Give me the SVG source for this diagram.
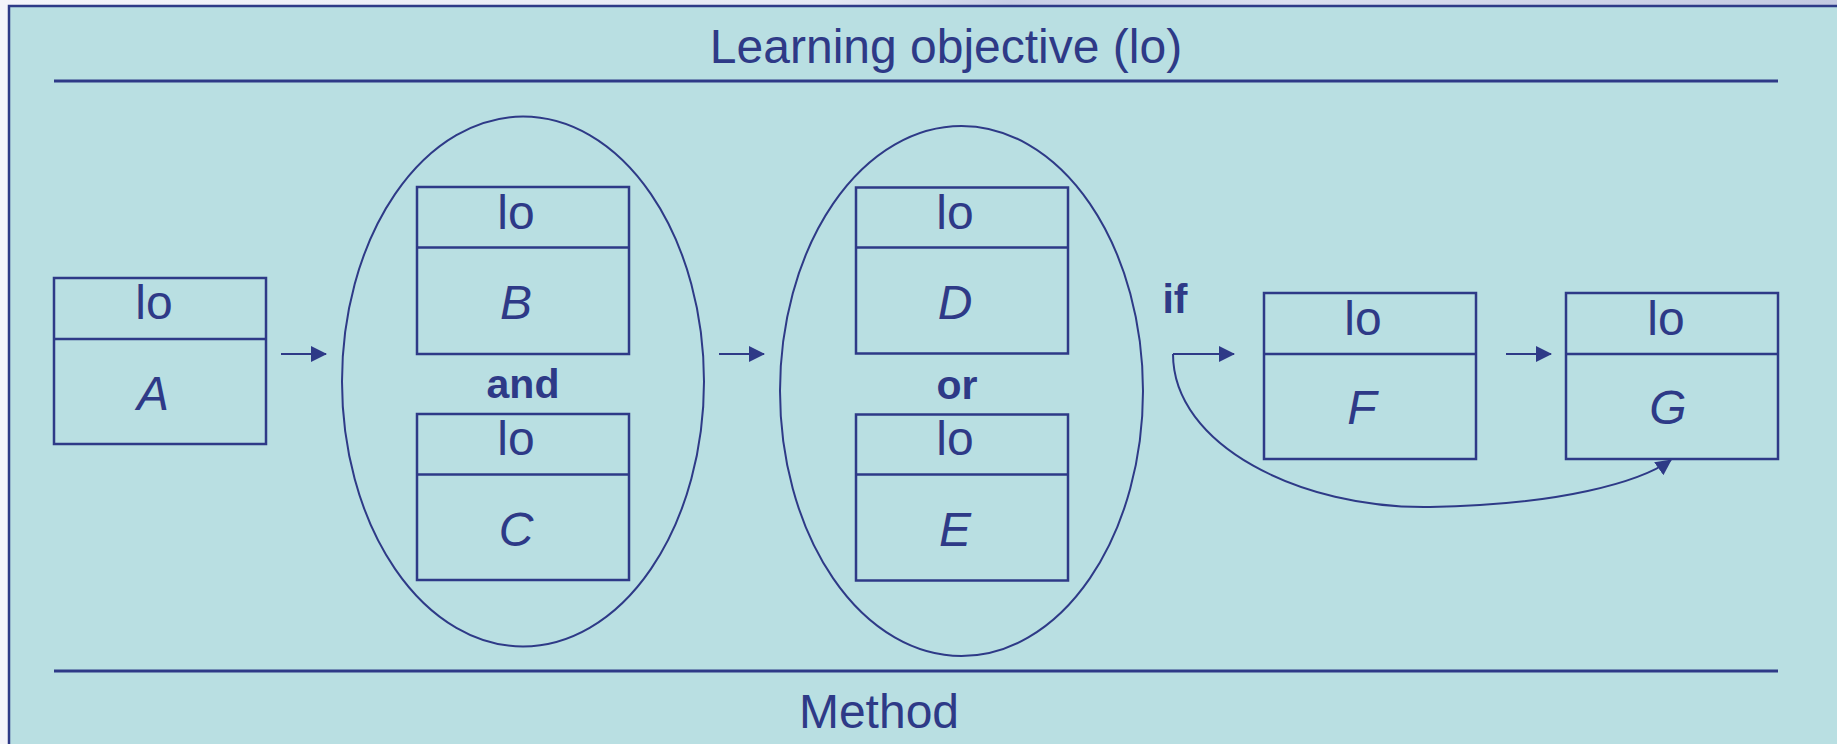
<svg xmlns="http://www.w3.org/2000/svg" width="1837" height="744" viewBox="0 0 1837 744">
  <defs>
    <linearGradient id="bgTop" x1="0" y1="0" x2="1" y2="0">
      <stop offset="0" stop-color="#F4F4FA"/>
      <stop offset="0.45" stop-color="#E6E9F4"/>
      <stop offset="0.55" stop-color="#C9CFE6"/>
      <stop offset="0.7" stop-color="#DCE0F0"/>
      <stop offset="1" stop-color="#C4CAE2"/>
    </linearGradient>
    <marker id="arr" viewBox="0 0 16 16" refX="15" refY="8" markerWidth="16" markerHeight="16" markerUnits="userSpaceOnUse" orient="auto">
      <path d="M0,0 L16,8 L0,16 Z" fill="#2E3A87"/>
    </marker>
    <style>
      .box { fill: none; stroke: #2E3A87; stroke-width: 2.5; }
      .ell { fill: none; stroke: #2E3A87; stroke-width: 2; }
      .conn { fill: none; stroke: #2E3A87; stroke-width: 2; }
      .t { font-family: "Liberation Sans", Arial, sans-serif; fill: #2E3A87; text-anchor: middle; }
      .lo48 { font-size: 48px; }
      .it { font-style: italic; }
      .bold { font-weight: bold; font-size: 41px; }
      .rule { stroke: #2E3A87; stroke-width: 3; }
    </style>
  </defs>

  <rect x="0" y="0" width="1837" height="744" fill="#F4F4FA"/>
  <rect x="0" y="0" width="1837" height="6" fill="url(#bgTop)"/>
  <rect x="9" y="6" width="1840" height="750" fill="#B9DFE2" stroke="#2E3A87" stroke-width="2.5"/>

  <g id="header">
    <text class="t" x="946" y="63" font-size="48">Learning objective (lo)</text>
    <line class="rule" x1="54" y1="81" x2="1778" y2="81"/>
  </g>
  <g id="footer">
    <line class="rule" x1="54" y1="671" x2="1778" y2="671"/>
    <text class="t" x="879" y="728" font-size="48">Method</text>
  </g>

  <g id="node-A">
    <rect class="box" x="54" y="278" width="212" height="166"/>
    <line class="box" x1="54" y1="339" x2="266" y2="339"/>
    <text class="t lo48" x="154" y="319">lo</text>
    <text class="t lo48 it" x="153" y="410">A</text>
  </g>

  <g id="group-and">
    <ellipse class="ell" cx="523" cy="381.5" rx="181" ry="265"/>
    <text class="t bold" x="523" y="398">and</text>
  </g>
  <g id="node-B">
    <rect class="box" x="417" y="187" width="212" height="167"/>
    <line class="box" x1="417" y1="247.5" x2="629" y2="247.5"/>
    <text class="t lo48" x="516" y="229">lo</text>
    <text class="t lo48 it" x="516" y="318.5">B</text>
  </g>
  <g id="node-C">
    <rect class="box" x="417" y="414" width="212" height="166"/>
    <line class="box" x1="417" y1="474.5" x2="629" y2="474.5"/>
    <text class="t lo48" x="516" y="455">lo</text>
    <text class="t lo48 it" x="516" y="546">C</text>
  </g>

  <g id="group-or">
    <ellipse class="ell" cx="961.5" cy="391" rx="181.5" ry="265"/>
    <text class="t bold" x="957" y="399">or</text>
  </g>
  <g id="node-D">
    <rect class="box" x="856" y="187.5" width="212" height="166"/>
    <line class="box" x1="856" y1="247.5" x2="1068" y2="247.5"/>
    <text class="t lo48" x="955" y="229">lo</text>
    <text class="t lo48 it" x="955" y="319">D</text>
  </g>
  <g id="node-E">
    <rect class="box" x="856" y="414.5" width="212" height="166"/>
    <line class="box" x1="856" y1="474.5" x2="1068" y2="474.5"/>
    <text class="t lo48" x="955" y="455">lo</text>
    <text class="t lo48 it" x="955" y="546">E</text>
  </g>

  <g id="label-if">
    <text class="t bold" x="1175" y="313">if</text>
  </g>

  <g id="node-F">
    <rect class="box" x="1264" y="293" width="212" height="166"/>
    <line class="box" x1="1264" y1="354" x2="1476" y2="354"/>
    <text class="t lo48" x="1363" y="335">lo</text>
    <text class="t lo48 it" x="1362" y="424">F</text>
  </g>
  <g id="node-G">
    <rect class="box" x="1566" y="293" width="212" height="166"/>
    <line class="box" x1="1566" y1="354" x2="1778" y2="354"/>
    <text class="t lo48" x="1666" y="335">lo</text>
    <text class="t lo48 it" x="1668" y="424">G</text>
  </g>

  <g id="connectors">
    <line class="conn" x1="281" y1="354" x2="326" y2="354" marker-end="url(#arr)"/>
    <line class="conn" x1="719" y1="354" x2="764" y2="354" marker-end="url(#arr)"/>
    <path class="conn" d="M1173,354 L1234,354" marker-end="url(#arr)"/>
    <line class="conn" x1="1506" y1="354" x2="1551" y2="354" marker-end="url(#arr)"/>
    <path class="conn" d="M1173,354 C1173,445 1300,509 1430,507 C1560,505 1640,482 1671,460" marker-end="url(#arr)"/>
  </g>
</svg>
